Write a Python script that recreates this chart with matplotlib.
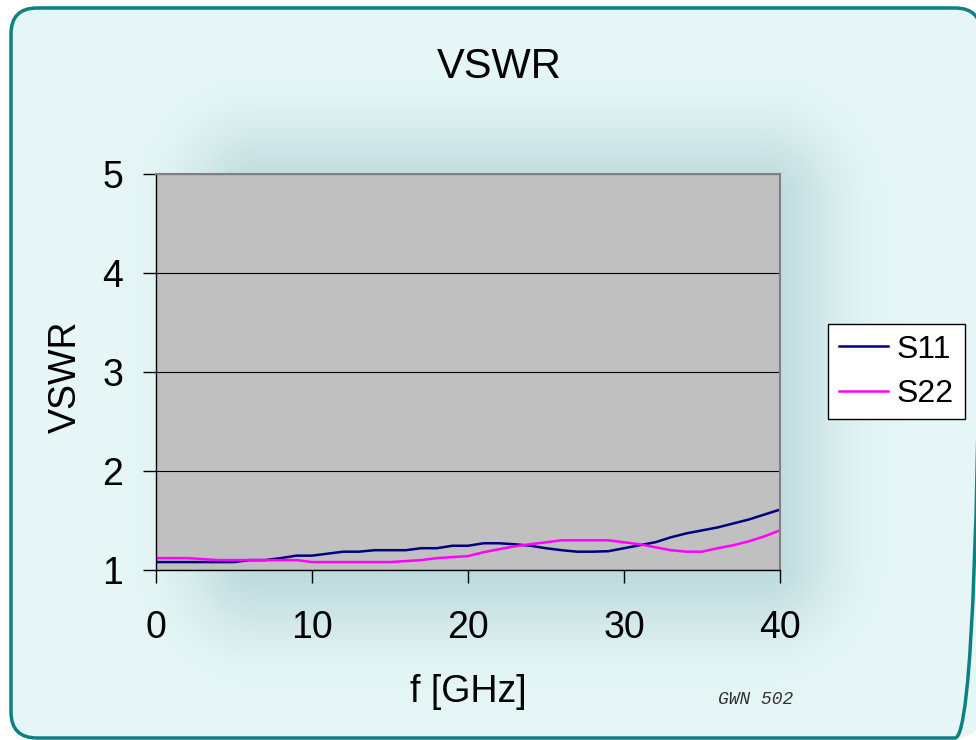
import numpy as np
import matplotlib
matplotlib.use("Agg")
import matplotlib.pyplot as plt
from matplotlib.patches import FancyBboxPatch

plt.rcParams['font.family'] = ['Liberation Sans', 'DejaVu Sans']

# frequency in GHz, VSWR
freq = [0, 1, 2, 3, 4, 5, 6, 7, 8, 9, 10, 11, 12, 13, 14, 15, 16, 17, 18, 19, 20,
        21, 22, 23, 24, 25, 26, 27, 28, 29, 30, 31, 32, 33, 34, 35, 36, 37, 38, 39, 40]
s11 = [1.08, 1.08, 1.08, 1.08, 1.08, 1.08, 1.10, 1.10, 1.12, 1.145, 1.145,
       1.165, 1.185, 1.185, 1.20, 1.20, 1.20, 1.22, 1.22, 1.245, 1.245,
       1.27, 1.27, 1.26, 1.245, 1.22, 1.20, 1.185, 1.185, 1.19, 1.22,
       1.25, 1.28, 1.33, 1.37, 1.40, 1.43, 1.47, 1.51, 1.56, 1.61]
s22 = [1.12, 1.12, 1.12, 1.11, 1.10, 1.10, 1.10, 1.10, 1.10, 1.10, 1.08,
       1.08, 1.08, 1.08, 1.08, 1.08, 1.09, 1.10, 1.12, 1.13, 1.14,
       1.18, 1.21, 1.24, 1.26, 1.28, 1.30, 1.30, 1.30, 1.30, 1.28,
       1.26, 1.23, 1.20, 1.185, 1.185, 1.22, 1.25, 1.29, 1.34, 1.40]
xticks = [0, 10, 20, 30, 40]
yticks = [1, 2, 3, 4, 5]

W, H = 976, 740
fig = plt.figure(figsize=(W / 100, H / 100), dpi=100, facecolor='white')

# slide-like background: light cyan panel with a soft shadow behind the plot
bg = fig.add_axes([0, 0, 1, 1], zorder=-5)
bg.set_xlim(0, W)
bg.set_ylim(H, 0)
bg.axis('off')
yy, xx = np.mgrid[0:H, 0:W]
dx = np.maximum(np.maximum(260 - xx, 0), xx - 760)
dy = np.maximum(np.maximum(200 - yy, 0), yy - 560)
shade = np.exp(-(np.hypot(dx, dy) / 75.0) ** 2)
light = np.array([0.905, 0.968, 0.968])
dark = np.array([0.745, 0.857, 0.867])
img = light + shade[..., None] * (dark - light)
panel = FancyBboxPatch((11, 8), 970, 730, boxstyle="round,pad=0,rounding_size=26",
                       facecolor='none', edgecolor='#0e8080', linewidth=2.5, zorder=3)
bg.add_patch(panel)
im = bg.imshow(img, extent=[0, W, H, 0], aspect='auto', zorder=1)
im.set_clip_path(panel)

ax = fig.add_axes([156 / W, (H - 570) / H, 624 / W, 396 / H])
ax.set_facecolor('#c0c0c0')
ax.plot(freq, s11, color='#000080', lw=1.8, label='S11')
ax.plot(freq, s22, color='#ff00ff', lw=1.8, label='S22')
ax.set_xlim(0, 40)
ax.set_ylim(1, 5)
ax.set_xticks(xticks)
ax.set_yticks(yticks)
ax.yaxis.grid(True, color='black', lw=0.8)
ax.set_axisbelow(True)
for side in ['left', 'bottom']:
    ax.spines[side].set_color('black')
    ax.spines[side].set_linewidth(1)
for side in ['top', 'right']:
    ax.spines[side].set_color('#808080')
    ax.spines[side].set_linewidth(1.5)
ax.tick_params(direction='out', length=9.5, width=1, labelsize=27)
ax.tick_params(axis='y', pad=14)
ax.tick_params(axis='x', pad=19)

ax.set_xlabel('f [GHz]', fontsize=27, va='center')
ax.xaxis.set_label_coords(0.5, (570 - 692) / 396)
ax.set_ylabel('VSWR', fontsize=27, va='center')
ax.yaxis.set_label_coords((66 - 156) / 624, (570 - 377) / 396)

fig.text(499 / W, 1 - 67 / H, 'VSWR', fontsize=30, ha='center', va='center')
fig.text(756 / W, 1 - 699 / H, 'GWN 502', fontsize=13, ha='center', va='center',
         family='Liberation Mono', style='italic', color='#333333')

leg = ax.legend(loc='upper left', bbox_to_anchor=(828 / W, 1 - 324 / H),
                bbox_transform=fig.transFigure, borderaxespad=0, fontsize=23,
                fancybox=False, edgecolor='black', framealpha=1,
                handlelength=1.55, handletextpad=0.28, borderpad=0.33, labelspacing=0.45)
leg.get_frame().set_linewidth(1)

fig.savefig('out.png', dpi=100, facecolor='white')
